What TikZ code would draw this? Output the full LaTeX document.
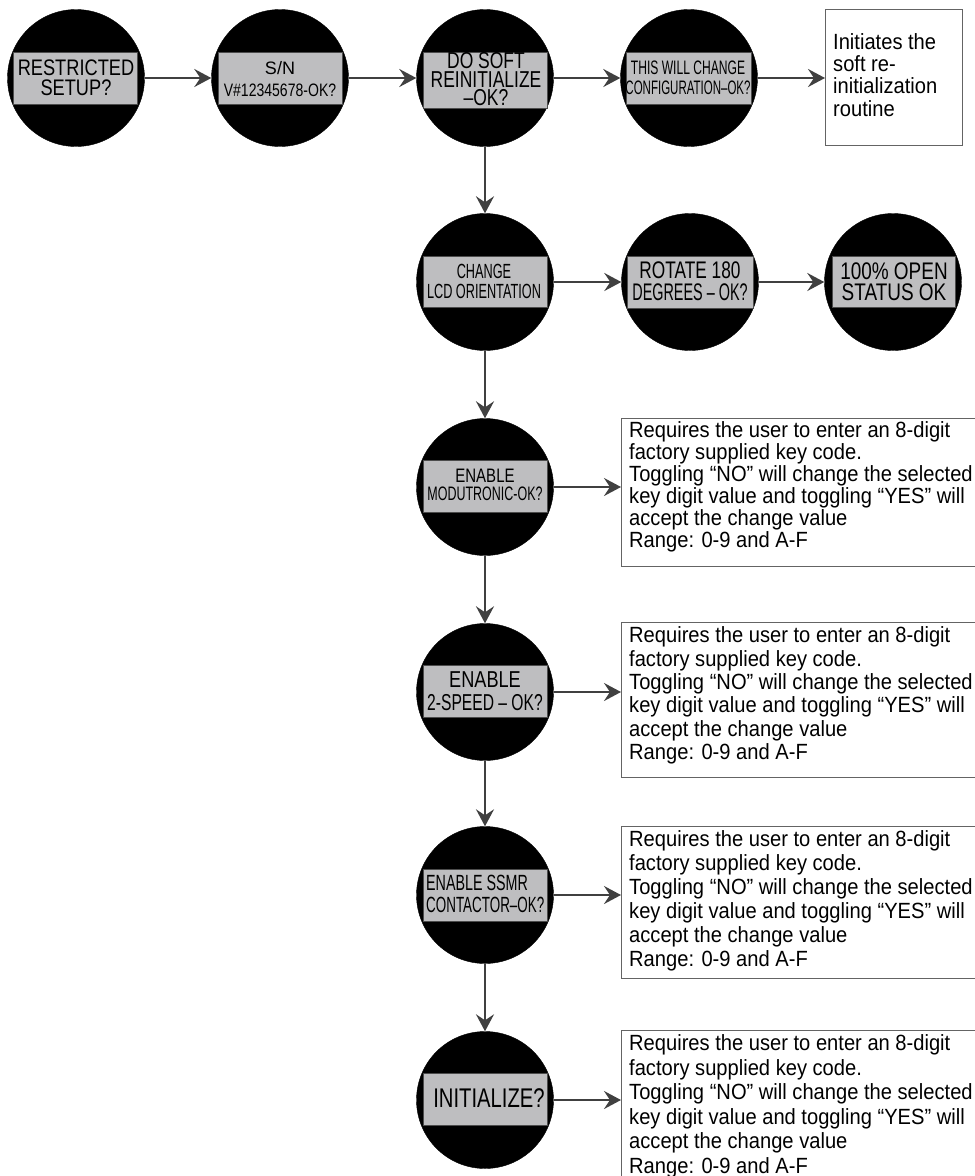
\documentclass[tikz,border=0pt]{standalone}
\usepackage{fontspec}
\usepackage{graphicx}
\setmainfont{Liberation Sans}
\newfontfamily\bodyfont{Liberation Sans}[FakeStretch=0.915]
\usetikzlibrary{arrows.meta}
\definecolor{lcdgray}{RGB}{190,190,192}
\definecolor{arrgray}{RGB}{64,64,64}
\definecolor{boxgray}{RGB}{100,100,100}
\newcommand{\sx}[2]{\scalebox{#1}[1]{#2}}
\begin{document}
\begin{tikzpicture}[x=1pt,y=-1pt,
  disc/.style={circle, fill=black, draw=black, minimum size=137pt, inner sep=0pt},
  lcd/.style={rectangle, fill=lcdgray, draw=black!70, line width=0.8pt, inner sep=0pt, minimum width=124pt, minimum height=52pt},
  lbl/.style={inner sep=0pt, align=center, text=black},
  arr/.style={draw=arrgray, line width=2.2pt, -{Stealth[length=17pt,width=18pt,inset=6pt]}},
  infobox/.style={rectangle, draw=boxgray, line width=1.2pt, inner sep=0pt, anchor=north west, fill=white},
  info/.style={inner sep=0pt, anchor=north west, align=left, font=\bodyfont\fontsize{22}{#1}\selectfont},
]
\useasboundingbox[fill=white] (0,0) rectangle (975,1176);

% row 1
\node[disc] (c1) at (76,78) {};
\node[lcd] (s1) at (75,78) {};
\node[lbl, font=\fontsize{22.5}{20}\selectfont] (t1) at (76,77.5) {\sx{0.81}{RESTRICTED}\\\sx{0.81}{SETUP?}};

\node[disc] (c2) at (280,78) {};
\node[lcd] (s2) at (280,78) {};
\node[lbl, font=\fontsize{18}{22}\selectfont] (t2) at (280,79.5) {S/N\\\sx{0.78}{V\#12345678-OK?}};

\node[disc] (c3) at (485,78) {};
\node[lcd, minimum height=56pt] (s3) at (485,80) {};
\node[lbl, font=\fontsize{23}{18.5}\selectfont] (t3) at (486,79.5) {\sx{0.76}{DO SOFT}\\\sx{0.76}{REINITIALIZE}\\\sx{0.76}{–OK?}};

\node[disc] (c4) at (689,78) {};
\node[lcd, minimum width=125pt] (s4) at (688.5,78) {};
\node[lbl, font=\fontsize{19.5}{20}\selectfont] (t4) at (688,77.5) {\sx{0.62}{THIS WILL CHANGE}\\\sx{0.59}{CONFIGURATION–OK?}};

\node[infobox, minimum width=137pt, minimum height=136pt] (b0) at (825,9) {};
\node[info=22.3] (x0) at (833,33) {Initiates the\\soft re-\\initialization\\routine};

% row 2
\node[disc] (r1) at (485,282) {};
\node[lcd, minimum height=51pt] (sr1) at (485,281.5) {};
\node[lbl, font=\fontsize{20.5}{20}\selectfont] (tr1) at (484,281.5) {\sx{0.62}{CHANGE}\\\sx{0.62}{LCD ORIENTATION}};

\node[disc] (r2) at (690,282) {};
\node[lcd, minimum width=126pt] (sr2) at (690,282) {};
\node[lbl, font=\fontsize{24}{22}\selectfont] (tr2) at (690,281.5) {\sx{0.72}{ROTATE 180}\\\sx{0.6}{DEGREES – OK?}};

\node[disc] (r3) at (893,282) {};
\node[lcd, minimum width=123pt, minimum height=51pt] (sr3) at (893.5,281.5) {};
\node[lbl, font=\fontsize{24}{21}\selectfont] (tr3) at (894,281.5) {\sx{0.79}{100\% OPEN}\\\sx{0.79}{STATUS OK}};

% column
\node[disc] (m1) at (485,487) {};
\node[lcd] (sm1) at (485,486) {};
\node[lbl, font=\fontsize{19.5}{18}\selectfont] (tm1) at (485,485) {\sx{0.77}{ENABLE}\\\sx{0.64}{MODUTRONIC-OK?}};

\node[disc] (m2) at (485,692) {};
\node[lcd] (sm2) at (485,691) {};
\node[lbl, font=\fontsize{23}{23}\selectfont] (tm2) at (485,691) {\sx{0.79}{ENABLE}\\\sx{0.68}{2-SPEED – OK?}};

\node[disc] (m3) at (485,895) {};
\node[lcd] (sm3) at (485,895) {};
\node[lbl, align=left, anchor=west, font=\fontsize{22}{22}\selectfont] (tm3) at (426,893.5) {\sx{0.65}{ENABLE SSMR}\\\sx{0.61}{CONTACTOR–OK?}};

\node[disc] (m4) at (485,1100) {};
\node[lcd] (sm4) at (485,1099) {};
\node[lbl, font=\fontsize{27}{27}\selectfont] (tm4) at (489,1098) {\sx{0.75}{INITIALIZE?}};

% info boxes
\node[infobox, minimum width=380pt, minimum height=148pt] (b1) at (621,418) {};
\node[info=22] (x1) at (629,421.5) {Requires the user to enter an 8-digit\\factory supplied key code.\\Toggling “NO” will change the selected\\key digit value and toggling “YES” will\\accept the change value\\Range: 0-9 and A-F};

\node[infobox, minimum width=380pt, minimum height=155pt] (b2) at (621,622) {};
\node[info=23.4] (x2) at (629,626.5) {Requires the user to enter an 8-digit\\factory supplied key code.\\Toggling “NO” will change the selected\\key digit value and toggling “YES” will\\accept the change value\\Range: 0-9 and A-F};

\node[infobox, minimum width=380pt, minimum height=152pt] (b3) at (621,826) {};
\node[info=24] (x3) at (629,830.5) {Requires the user to enter an 8-digit\\factory supplied key code.\\Toggling “NO” will change the selected\\key digit value and toggling “YES” will\\accept the change value\\Range: 0-9 and A-F};

\node[infobox, minimum width=380pt, minimum height=170pt] (b4) at (621,1030) {};
\node[info=24.5] (x4) at (629,1034.5) {Requires the user to enter an 8-digit\\factory supplied key code.\\Toggling “NO” will change the selected\\key digit value and toggling “YES” will\\accept the change value\\Range: 0-9 and A-F};

% connectors
\draw[arr] (c1) -- (c2);
\draw[arr] (c2) -- (c3);
\draw[arr] (c3) -- (c4);
\draw[arr] (c4) -- (c4 -| b0.west);
\draw[arr] (c3) -- (r1);
\draw[arr] (r1) -- (r2);
\draw[arr] (r2) -- (r3);
\draw[arr] (r1) -- (m1);
\draw[arr] (m1) -- (m2);
\draw[arr] (m2) -- (m3);
\draw[arr] (m3) -- (m4);
\draw[arr] (m1) -- (m1 -| b1.west);
\draw[arr] (m2) -- (m2 -| b2.west);
\draw[arr] (m3) -- (m3 -| b3.west);
\draw[arr] (m4) -- (m4 -| b4.west);
\end{tikzpicture}
\end{document}
